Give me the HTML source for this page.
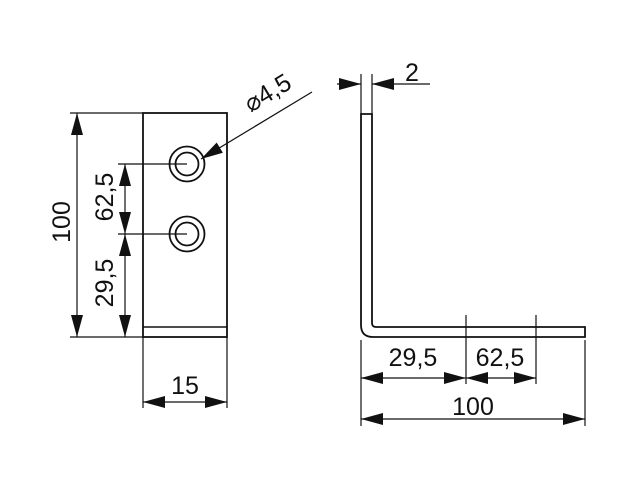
<!DOCTYPE html>
<html><head><meta charset="utf-8"><style>body{margin:0;background:#fff}</style></head>
<body>
<svg width="638" height="480" viewBox="0 0 638 480" xmlns="http://www.w3.org/2000/svg" font-family="Liberation Sans, sans-serif" font-size="25" fill="#111">
<defs>
<marker id="a" viewBox="0 0 22 12" refX="22" refY="6" markerWidth="22" markerHeight="12" markerUnits="userSpaceOnUse" orient="auto-start-reverse"><path d="M0,0 L22,6 L0,12 Z" fill="#111"/></marker>
</defs>
<g stroke="#111" fill="none" stroke-width="1.2">
<rect x="143" y="113" width="84" height="224" stroke-width="1.8"/>
<line x1="143" y1="327" x2="227" y2="327" stroke-width="1.5"/>
<circle cx="187" cy="164" r="17.5" stroke-width="1.8"/><circle cx="187" cy="164" r="11.5" stroke-width="1.8"/>
<circle cx="187" cy="234" r="17.5" stroke-width="1.8"/><circle cx="187" cy="234" r="11.5" stroke-width="1.8"/>
<line x1="70" y1="113" x2="143" y2="113"/><line x1="70" y1="337" x2="143" y2="337"/>
<line x1="77" y1="113" x2="77" y2="337" marker-start="url(#a)" marker-end="url(#a)"/>
<line x1="118" y1="164" x2="187" y2="164"/><line x1="118" y1="234" x2="187" y2="234"/>
<line x1="125" y1="164" x2="125" y2="234" marker-start="url(#a)" marker-end="url(#a)"/>
<line x1="125" y1="234" x2="125" y2="337" marker-start="url(#a)" marker-end="url(#a)"/>
<line x1="143" y1="337" x2="143" y2="408"/><line x1="227" y1="337" x2="227" y2="408"/>
<line x1="143" y1="402" x2="227" y2="402" marker-start="url(#a)" marker-end="url(#a)"/>
<line x1="312" y1="92" x2="201" y2="159" marker-end="url(#a)"/>
<path d="M361,114 L372,114 L372,323 Q372,327 376,327 L585,327 L585,337 L373,337 Q361,337 361,325 Z" stroke-width="1.8"/>
<line x1="361" y1="74" x2="361" y2="114"/><line x1="372" y1="74" x2="372" y2="114"/>
<line x1="337" y1="84" x2="361" y2="84" marker-end="url(#a)"/>
<line x1="430" y1="84" x2="372" y2="84" marker-end="url(#a)"/>
<line x1="466" y1="315" x2="466" y2="384"/><line x1="536" y1="315" x2="536" y2="384"/>
<line x1="361" y1="340" x2="361" y2="426"/><line x1="585" y1="340" x2="585" y2="426"/>
<line x1="361" y1="378" x2="466" y2="378" marker-start="url(#a)" marker-end="url(#a)"/>
<line x1="466" y1="378" x2="536" y2="378" marker-start="url(#a)" marker-end="url(#a)"/>
<line x1="361" y1="419" x2="585" y2="419" marker-start="url(#a)" marker-end="url(#a)"/>
</g>
<g text-anchor="middle">
<text x="0" y="0" transform="translate(70,222) rotate(-90)">100</text>
<text x="0" y="0" transform="translate(113,197) rotate(-90)">62,5</text>
<text x="0" y="0" transform="translate(113,283) rotate(-90)">29,5</text>
<text x="185" y="394">15</text>
<text x="0" y="0" transform="translate(272,100) rotate(-31)">⌀4,5</text>
<text x="412" y="81">2</text>
<text x="413" y="366">29,5</text>
<text x="500" y="366">62,5</text>
<text x="473" y="415">100</text>
</g>
</svg>
</body></html>
